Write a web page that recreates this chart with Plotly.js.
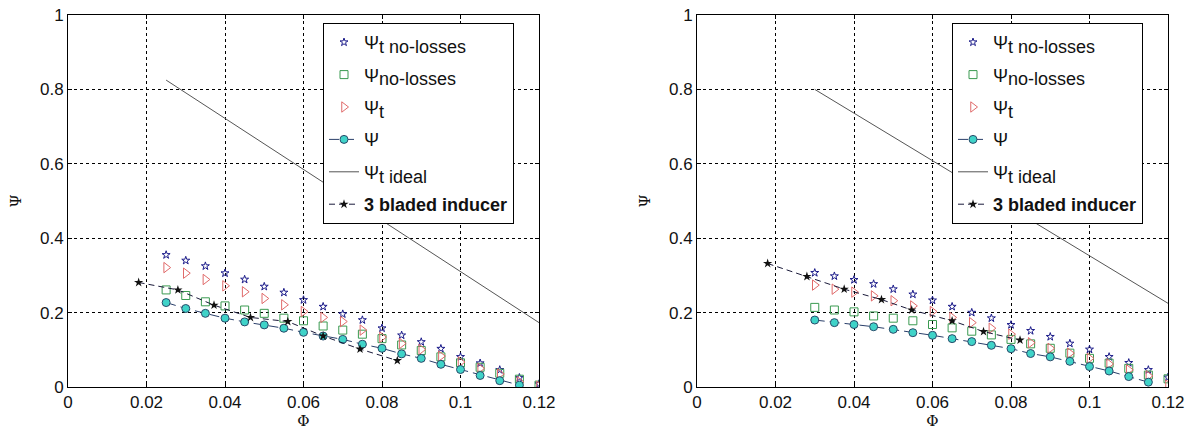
<!DOCTYPE html>
<html><head><meta charset="utf-8">
<script src="https://cdn.plot.ly/plotly-3.0.1.min.js"></script>
<style>html,body{margin:0;padding:0;background:#fff}#c{width:1195px;height:434px}</style>
</head><body><div id="c"></div>
<script>
// ---- Left panel data ----
const phiL = [0.025,0.03,0.035,0.04,0.045,0.05,0.055,0.06,0.065,0.07,0.075,0.08,0.085,0.09,0.095,0.1,0.105,0.11,0.115,0.12];
const psiTNoLossL = [0.355,0.340,0.325,0.306,0.289,0.270,0.254,0.234,0.216,0.196,0.180,0.158,0.139,0.121,0.103,0.081,0.064,0.046,0.025,0.008];
const psiNoLossL = [0.261,0.246,0.229,0.218,0.207,0.198,0.185,0.178,0.164,0.153,0.142,0.130,0.113,0.098,0.081,0.065,0.053,0.037,0.021,0.005];
const psiTL = [0.321,0.306,0.289,0.272,0.256,0.238,0.221,0.203,0.187,0.176,0.153,0.134,0.117,0.101,0.083,0.067,0.050,0.035,0.014,0.002];
const phiPsiL = [0.025,0.03,0.035,0.04,0.045,0.05,0.055,0.06,0.065,0.07,0.075,0.08,0.085,0.09,0.095,0.1,0.105,0.11,0.115];
const psiL = [0.227,0.211,0.198,0.185,0.175,0.167,0.158,0.147,0.137,0.128,0.115,0.104,0.089,0.077,0.061,0.047,0.031,0.017,0.005];
const phiIdealL = [0.025,0.12];
const psiIdealL = [0.825,0.173];
const phiIndL = [0.018,0.028,0.0372,0.0465,0.056,0.065,0.0744,0.0839];
const psiIndL = [0.281,0.261,0.220,0.187,0.176,0.137,0.102,0.071];

// ---- Right panel data ----
const phiR = [0.03,0.035,0.04,0.045,0.05,0.055,0.06,0.065,0.07,0.075,0.08,0.085,0.09,0.095,0.1,0.105,0.11,0.115,0.12];
const psiTNoLossR = [0.307,0.298,0.288,0.277,0.263,0.249,0.233,0.216,0.200,0.185,0.167,0.151,0.135,0.117,0.101,0.081,0.065,0.046,0.026];
const psiNoLossR = [0.214,0.207,0.202,0.191,0.185,0.178,0.168,0.159,0.150,0.140,0.128,0.116,0.104,0.091,0.077,0.064,0.050,0.032,0.022];
const psiTR = [0.274,0.263,0.255,0.245,0.232,0.218,0.203,0.187,0.173,0.158,0.142,0.119,0.104,0.091,0.077,0.062,0.046,0.030,0.005];
const phiPsiR = [0.03,0.035,0.04,0.045,0.05,0.055,0.06,0.065,0.07,0.075,0.08,0.085,0.09,0.095,0.1,0.105,0.11,0.115];
const psiR = [0.180,0.173,0.168,0.162,0.155,0.146,0.139,0.130,0.122,0.112,0.103,0.090,0.081,0.069,0.055,0.043,0.028,0.013];
const phiIdealR = [0.03,0.12];
const psiIdealR = [0.80,0.225];
const phiIndR = [0.018,0.028,0.0375,0.047,0.0547,0.065,0.073,0.0823];
const psiIndR = [0.332,0.297,0.263,0.235,0.207,0.178,0.149,0.126];

const xTicks = [0,0.02,0.04,0.06,0.08,0.1,0.12];
const xTickText = ['0','0.02','0.04','0.06','0.08','0.1','0.12'];
const yTicks = [0,0.2,0.4,0.6,0.8,1];
const yTickText = ['0','0.2','0.4','0.6','0.8','1'];

const sub = s => '<sub><span style="font-size:18px">' + s + '</span></sub>';
const names = ['Ψ' + sub('t no-losses'), 'Ψ' + sub('no-losses'), 'Ψ' + sub('t'), 'Ψ', 'Ψ' + sub('t ideal'), '<b>3 bladed inducer</b>'];

function panel(xa, ya, lg, sets){
  const [phi, tnl, nl, t, phiPsi, psi, phiI, psiI, phiInd, psiInd] = sets;
  return [
    {x:phi, y:tnl, xaxis:xa, yaxis:ya, legend:lg, name:names[0], mode:'markers', legendgroup:lg+'a',
     marker:{symbol:'star-open', size:6, color:'#1c1c8a', line:{width:1}}},
    {x:phi, y:nl, xaxis:xa, yaxis:ya, legend:lg, name:names[1], mode:'markers', legendgroup:lg+'b',
     marker:{symbol:'square-open', size:8, color:'#3a9a50', line:{width:1}}},
    {x:phi, y:t, xaxis:xa, yaxis:ya, legend:lg, name:names[2], mode:'markers', legendgroup:lg+'c',
     marker:{symbol:'triangle-right-open', size:9, color:'#e06a6a', line:{width:1}}},
    {x:phiPsi, y:psi, xaxis:xa, yaxis:ya, legend:lg, name:names[3], mode:'lines+markers', legendgroup:lg+'d',
     line:{color:'#2a3f6a', width:1, dash:'10px,5px'},
     marker:{symbol:'circle', size:8, color:'#3fd3c8', line:{color:'#2a4a6a', width:1}}},
    {x:phiI, y:psiI, xaxis:xa, yaxis:ya, legend:lg, name:names[4], mode:'lines', legendgroup:lg+'e',
     line:{color:'#555555', width:1}},
    {x:phiInd, y:psiInd, xaxis:xa, yaxis:ya, legend:lg, name:names[5], mode:'lines+markers', legendgroup:lg+'f',
     line:{color:'#1a1a3a', width:1, dash:'6px,4px'},
     marker:{symbol:'star', size:7, color:'#111111'}}
  ];
}

const data = [
  ...panel('x','y','legend',[phiL,psiTNoLossL,psiNoLossL,psiTL,phiPsiL,psiL,phiIdealL,psiIdealL,phiIndL,psiIndL]),
  ...panel('x2','y2','legend2',[phiR,psiTNoLossR,psiNoLossR,psiTR,phiPsiR,psiR,phiIdealR,psiIdealR,phiIndR,psiIndR])
];

const W = 1195, H = 434;
const fnt = {family:'Liberation Sans, Arial, sans-serif', size:17, color:'#111'};
function xax(d, anchor){
  return {domain:d, anchor:anchor, range:[0,0.12], tickvals:xTicks, ticktext:xTickText,
    showline:true, mirror:'ticks', linecolor:'#000', linewidth:1, ticks:'inside', ticklen:4, tickcolor:'#000',
    showgrid:true, gridcolor:'#000', griddash:'3px,3px', gridwidth:1, zeroline:false, tickfont:fnt,
    title:{text:'Φ', font:{family:'DejaVu Serif, serif', size:15, color:'#111'}, standoff:2}};
}
function yax(d, anchor){
  return {domain:d, anchor:anchor, range:[0,1], tickvals:yTicks, ticktext:yTickText,
    showline:true, mirror:'ticks', linecolor:'#000', linewidth:1, ticks:'inside', ticklen:4, tickcolor:'#000',
    showgrid:true, gridcolor:'#000', griddash:'3px,3px', gridwidth:1, zeroline:false, tickfont:fnt,
    title:{text:'Ψ', font:{family:'DejaVu Serif, serif', size:15, color:'#111'}, standoff:14}};
}
const yd = [(H-387)/H, (H-15)/H];
const legFont = {family:'Liberation Sans, Arial, sans-serif', size:18, color:'#111'};
const legBase = {y:(H-23)/H, xanchor:'left', yanchor:'top', bgcolor:'#fff', bordercolor:'#000', borderwidth:1,
    font:legFont, tracegroupgap:6, itemwidth:30};
const layout = {
  width:W, height:H, margin:{l:0,r:0,t:0,b:0}, paper_bgcolor:'#fff', plot_bgcolor:'#fff',
  showlegend:true,
  xaxis: xax([68/W, 539/W], 'y'),
  yaxis: yax(yd, 'x'),
  xaxis2: xax([697/W, 1168/W], 'y2'),
  yaxis2: yax(yd, 'x2'),
  legend: Object.assign({x:323/W}, legBase),
  legend2: Object.assign({x:952/W}, legBase)
};
Plotly.newPlot('c', data, layout, {displayModeBar:false, staticPlot:true});
</script></body></html>
